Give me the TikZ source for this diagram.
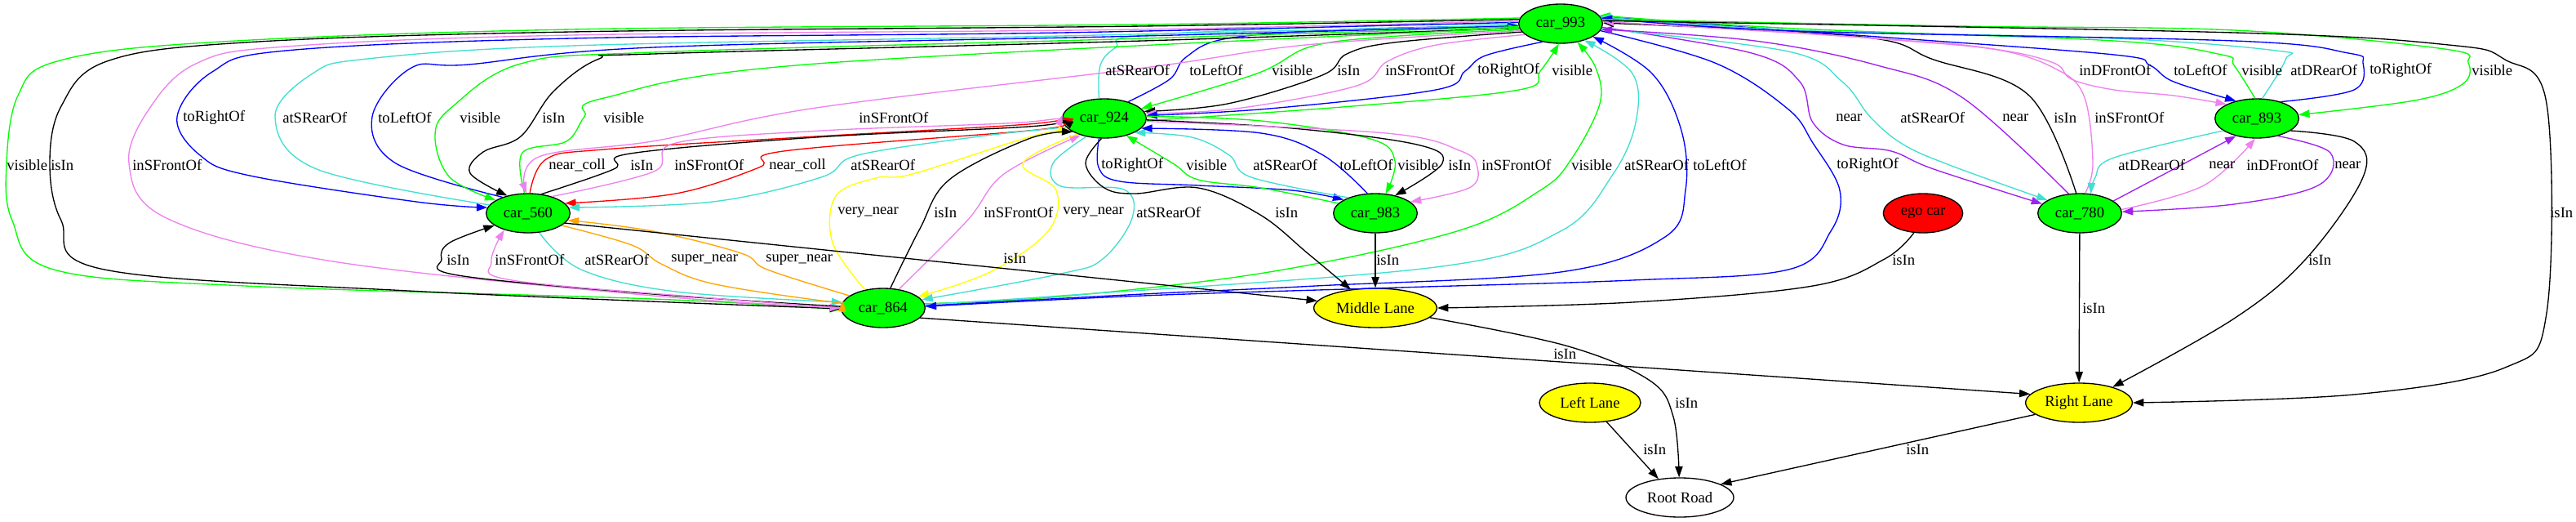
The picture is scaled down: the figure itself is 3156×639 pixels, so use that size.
\documentclass[tikz,border=0pt]{standalone}
\usepackage{fontspec}
\setmainfont{Liberation Serif}
\usetikzlibrary{shapes.geometric,arrows.meta}
\definecolor{gvgreen}{RGB}{0,255,0}
\definecolor{gvblue}{RGB}{0,0,255}
\definecolor{gvturq}{RGB}{64,224,208}
\definecolor{gvviolet}{RGB}{238,130,238}
\definecolor{gvpurple}{RGB}{160,32,240}
\definecolor{gvred}{RGB}{255,0,0}
\definecolor{gvorange}{RGB}{255,165,0}
\definecolor{gvyellow}{RGB}{255,255,0}
\newcommand\gvfont{\fontsize{14pt}{16pt}\selectfont}
\newcommand\gvE[2]{\draw[ed,#1] plot[smooth,tension=0.6] coordinates {#2};}
\tikzset{
  gvnode/.style={ellipse, draw=black, line width=1pt, inner sep=0pt, minimum height=36pt, font=\gvfont},
  carnode/.style={gvnode, fill=gvgreen, minimum width=77pt},
  lanenode/.style={gvnode, fill=gvyellow},
  ed/.style={line width=1pt, -{Triangle[length=10pt,width=7pt]}},
  lb/.style={anchor=west, inner sep=0pt, font=\gvfont},
}
\begin{document}
\begin{tikzpicture}[x=0.75pt,y=-0.75pt]
\useasboundingbox (0,0) rectangle (3156,639);
\fill[white] (0,0) rectangle (3156,639);
% nodes
\node[carnode] (n993) at (1912,29) {car\_993};
\node[carnode] (n924) at (1353,145) {car\_924};
\node[carnode] (n893) at (2765,145) {car\_893};
\node[carnode] (n560) at (647,261) {car\_560};
\node[carnode] (n983) at (1685,261) {car\_983};
\node[carnode] (n780) at (2548,261) {car\_780};
\node[gvnode, fill=gvred, minimum width=73pt] (ego) at (2356,261) {ego car};
\node[carnode] (n864) at (1082,377) {car\_864};
\node[lanenode, minimum width=113pt] (mid) at (1685,377) {Middle Lane};
\node[lanenode, minimum width=93pt] (lft) at (1948,493) {Left Lane};
\node[lanenode, minimum width=98pt] (rgt) at (2547,493) {Right Lane};
\node[gvnode, fill=white, minimum width=99pt] (root) at (2058,609) {Root Road};
% 993 - 924
\gvE{gvturq}{(n924.105) (1348,80) (1367,58) (1402,43) (1700,31) (n993.181)}
\gvE{gvblue}{(n924.35) (1433,97) (1453,70) (1504,47) (1650,36) (n993.183)}
\gvE{gvgreen}{(n993.188) (1700,45) (1606,57) (1540,90) (n924.15)}
\gvE{black}{(n993.192) (1708,52) (1650,66) (1620,92) (1504,127) (n924.10)}
\gvE{gvviolet}{(n993.197) (1760,55) (1700,75) (1662,105) (1514,133) (n924.7)}
\gvE{gvblue}{(n993.225) (1820,68) (1795,87) (1759,110) (1555,133) (n924.4)}
\gvE{gvgreen}{(n924.357) (1657,130) (1861,110) (1887,87) (n993.265)}
% 993 - 560
\gvE{gvblue}{(n993.178) (1300,40) (700,47) (350,62) (260,88) (217,143) (245,190) (306,215) (510,247) (n560.172)}
\gvE{gvturq}{(n560.168) (388,207) (337,143) (383,90) (450,72) (700,56) (1300,44) (n993.182)}
\gvE{gvblue}{(n560.148) (485,200) (456,143) (504,83) (574,79) (800,58) (1400,44) (n993.183)}
\gvE{gvgreen}{(n993.184) (1400,47) (800,64) (638,78) (555,130) (533,165) (551,217) (n560.158)}
\gvE{black}{(n993.186) (1400,50) (800,66) (734,72) (678,112) (638,167) (592,186) (576,212) (n560.140)}
\gvE{gvgreen}{(n560.100) (640,187) (694,173) (716,143) (740,120) (1000,78) (n993.186)}
\gvE{gvviolet}{(n993.190) (1600,55) (1402,83) (1000,132) (805,172) (660,192) (n560.95)}
% 993 - 864 left
\gvE{gvgreen}{(n993.172) (1400,30) (700,36) (255,52) (70,75) (22,117) (8,200) (15,270) (66,330) (300,350) (800,366) (n864.182)}
\gvE{black}{(n993.174) (1400,32) (700,39) (300,52) (131,75) (75,130) (61,200) (75,270) (128,330) (500,356) (n864.181)}
\gvE{gvviolet}{(n993.176) (1400,36) (700,43) (350,57) (242,77) (185,130) (158,200) (204,267) (408,320) (800,362) (n864.180)}
% 993 - 864 right
\gvE{gvgreen}{(n864.6) (1300,363) (1555,333) (1785,283) (1887,233) (1925,195) (1960,127) (1955,83) (n993.312)}
\gvE{gvturq}{(n864.5) (1300,362) (1759,327) (1912,283) (1975,215) (2004,150) (2000,90) (n993.325)}
\gvE{gvblue}{(n864.3) (1400,360) (1612,350) (1912,333) (2040,290) (2065,233) (2060,160) (2024,90) (n993.338)}
\gvE{gvblue}{(n993.350) (2101,77) (2190,133) (2221,175) (2254,233) (2243,283) (2191,330) (2000,343) (1714,352) (1400,362) (n864.2)}
% 993 - 780
\gvE{gvpurple}{(n993.355) (2146,65) (2205,100) (2221,150) (2258,177) (2317,185) (2369,207) (n780.166)}
\gvE{gvturq}{(n993.353) (2191,63) (2257,100) (2292,144) (2332,177) (2391,203) (n780.158)}
\gvE{gvpurple}{(n780.120) (2405,120) (2300,80) (2150,50) (n993.352)}
\gvE{black}{(n780.100) (2486,117) (2369,73) (2280,45) (n993.1)}
\gvE{gvviolet}{(n780.75) (2564,200) (2553,117) (2516,83) (2442,60) (2300,47) (n993.3)}
% 993 - 893
\gvE{gvviolet}{(n993.8) (2295,47) (2442,60) (2516,77) (2538,97) (2590,110) (2663,117) (n893.155)}
\gvE{gvblue}{(n993.10) (2300,45) (2590,67) (2634,80) (2663,100) (n893.140)}
\gvE{gvgreen}{(n893.95) (2737,80) (2722,67) (2590,50) (2200,35) (n993.12)}
\gvE{gvturq}{(n893.75) (2800,73) (2789,62) (2590,47) (2200,37) (n993.10)}
\gvE{gvblue}{(n893.35) (2884,110) (2895,77) (2877,65) (2737,50) (2200,38) (n993.8)}
\gvE{gvgreen}{(n993.6) (2400,32) (2737,37) (2995,60) (3024,77) (3017,103) (2958,123) (n893.5)}
\gvE{black}{(n993.4) (2737,40) (3000,55) (3069,73) (3120,127) (3120,383) (3069,450) (2884,483) (rgt.0)}
% 924 - 983
\gvE{gvblue}{(n924.255) (1346,205) (1372,222) (1468,227) (1583,233) (n983.157)}
\gvE{gvgreen}{(n983.165) (1545,230) (1468,220) (1437,200) (n924.322)}
\gvE{gvturq}{(n983.150) (1533,217) (1506,190) (1460,168) (n924.335)}
\gvE{gvblue}{(n983.112) (1621,190) (1545,163) (n924.345)}
\gvE{gvgreen}{(n924.3) (1545,148) (1679,170) (1709,197) (n983.62)}
\gvE{black}{(n924.358) (1583,157) (1736,177) (1767,200) (n983.42)}
\gvE{gvviolet}{(n924.356) (1698,163) (1790,185) (1810,205) (1800,230) (n983.18)}
% 924 - 560
\gvE{gvred}{(n560.85) (669,195) (739,183) (1000,167) (1260,152) (n924.178)}
\gvE{black}{(n560.55) (752,207) (772,188) (1000,168) (1260,155) (n924.182)}
\gvE{gvviolet}{(n560.35) (801,210) (828,175) (1006,160) (1250,150) (n924.175)}
\gvE{gvred}{(n924.188) (1260,160) (960,185) (930,205) (828,237) (n560.15)}
\gvE{gvturq}{(n924.193) (1200,167) (1051,190) (1006,217) (873,247) (n560.8)}
% 560 - 864
\gvE{black}{(n864.178) (800,360) (561,337) (541,317) (551,297) (n560.200)}
\gvE{gvviolet}{(n864.180) (873,365) (627,343) (602,320) (n560.215)}
\gvE{gvturq}{(n560.300) (712,330) (828,357) (n864.172)}
\gvE{gvorange}{(n560.340) (774,300) (810,323) (872,347) (1006,368) (n864.170)}
\gvE{gvorange}{(n864.160) (940,330) (908,310) (800,283) (n560.350)}
% 864 - 924
\gvE{gvyellow}{(n864.135) (1020,297) (1024,240) (1073,218) (1118,213) (1260,168) (n924.198)}
\gvE{black}{(n864.70) (1127,280) (1163,220) (1260,170) (n924.203)}
\gvE{gvviolet}{(n864.50) (1185,270) (1230,213) (n924.215)}
\gvE{gvyellow}{(n924.210) (1253,200) (1294,233) (1284,283) (1213,333) (n864.18)}
\gvE{gvturq}{(n924.225) (1290,200) (1300,228) (1377,232) (1387,267) (1351,317) (1300,335) (n864.12)}
% lanes
\gvE{black}{(n924.262) (1330,200) (1353,230) (1391,237) (1468,230) (1544,263) (1602,310) (mid.143)}
\draw[ed] (n560.345) -- (mid.173);
\draw[ed] (n983) -- (mid);
\gvE{black}{(ego.245) (2309,317) (2221,350) (2000,370) (mid.0)}
\draw[ed] (n864.345) -- (rgt.170);
\gvE{black}{(mid.350) (1918,423) (2020,465) (2050,510) (root.92)}
\draw[ed] (lft.311) -- (root.139);
\draw[ed] (rgt.195) -- (root.18);
\draw[ed] (n780) -- (rgt);
\gvE{black}{(n893.340) (2884,173) (2895,217) (2825,317) (2737,390) (rgt.25)}
% 893 - 780
\gvE{gvpurple}{(n780.20) (2663,207) (n893.220)}
\gvE{gvviolet}{(n780.5) (2700,227) (n893.265)}
\gvE{gvturq}{(n893.200) (2590,193) (2567,217) (n780.60)}
\gvE{gvpurple}{(n893.320) (2855,187) (2840,227) (2737,250) (n780.2)}
% labels row 86
\node[lb] (l1) at (1354,86) {atSRearOf};
\node[lb] (l2) at (1457,86) {toLeftOf};
\node[lb] (l3) at (1558,86) {visible};
\node[lb] (l4) at (1638,86) {isIn};
\node[lb] (l5) at (1697,86) {inSFrontOf};
\node[lb] (l6) at (1810,86) {toRightOf};
\node[lb] (l7) at (1901,86) {visible};
\node[lb] (l8) at (2547,86) {inDFrontOf};
\node[lb] (l9) at (2663,86) {toLeftOf};
\node[lb] (l10) at (2746,86) {visible};
\node[lb] (l11) at (2806,86) {atDRearOf};
\node[lb] (l12) at (2903,86) {toRightOf};
\node[lb] (l13) at (3028,86) {visible};
% row 144
\node[lb] (l14) at (224,144) {toRightOf};
\node[lb] (l15) at (346,144) {atSRearOf};
\node[lb] (l16) at (463,144) {toLeftOf};
\node[lb] (l17) at (563,144) {visible};
\node[lb] (l18) at (664,144) {isIn};
\node[lb] (l19) at (739,144) {visible};
\node[lb] (l20) at (1052,144) {inSFrontOf};
\node[lb] (l21) at (2249,144) {near};
\node[lb] (l22) at (2328,144) {atSRearOf};
\node[lb] (l23) at (2453,144) {near};
\node[lb] (l24) at (2516,144) {isIn};
\node[lb] (l25) at (2566,144) {inSFrontOf};
% row 202
\node[lb] (l26) at (8,202) {visible};
\node[lb] (l27) at (62,202) {isIn};
\node[lb] (l28) at (162,202) {inSFrontOf};
\node[lb] (l29) at (672,202) {near\_coll};
\node[lb] (l30) at (772,202) {isIn};
\node[lb] (l31) at (826,202) {inSFrontOf};
\node[lb] (l32) at (942,202) {near\_coll};
\node[lb] (l33) at (1042,202) {atSRearOf};
\node[lb] (l34) at (1349,202) {toRightOf};
\node[lb] (l35) at (1453,202) {visible};
\node[lb] (l36) at (1535,202) {atSRearOf};
\node[lb] (l37) at (1641,202) {toLeftOf};
\node[lb] (l38) at (1712,202) {visible};
\node[lb] (l39) at (1774,202) {isIn};
\node[lb] (l40) at (1815,202) {inSFrontOf};
\node[lb] (l41) at (1925,202) {visible};
\node[lb] (l42) at (1990,202) {atSRearOf};
\node[lb] (l43) at (2074,202) {toLeftOf};
\node[lb] (l44) at (2250,202) {toRightOf};
\node[lb] (l45) at (2595,202) {atDRearOf};
\node[lb] (l46) at (2706,202) {near};
\node[lb] (l47) at (2752,202) {inDFrontOf};
\node[lb] (l48) at (2860,202) {near};
% row 260
\node[lb] (l49) at (1026,260) {very\_near};
\node[lb] (l50) at (1144,260) {isIn};
\node[lb] (l51) at (1205,260) {inSFrontOf};
\node[lb] (l52) at (1302,260) {very\_near};
\node[lb] (l53) at (1392,260) {atSRearOf};
\node[lb] (l54) at (1562,260) {isIn};
\node[lb] (l55) at (3124,260) {isIn};
% row 318
\node[lb] (l56) at (547,318) {isIn};
\node[lb] (l57) at (606,318) {inSFrontOf};
\node[lb] (l58) at (716,318) {atSRearOf};
\node[lb] (l59) at (822,318) {super\_near};
\node[lb] (l60) at (938,318) {super\_near};
\node[lb] (l61) at (1229,316) {isIn};
\node[lb] (l62) at (1686,318) {isIn};
\node[lb] (l63) at (2318,318) {isIn};
\node[lb] (l64) at (2828,318) {isIn};
% lower rows
\node[lb] (l65) at (2551,377) {isIn};
\node[lb] (l66) at (1903,433) {isIn};
\node[lb] (l67) at (2052,493) {isIn};
\node[lb] (l68) at (2013,550) {isIn};
\node[lb] (l69) at (2335,550) {isIn};
\end{tikzpicture}
\end{document}
